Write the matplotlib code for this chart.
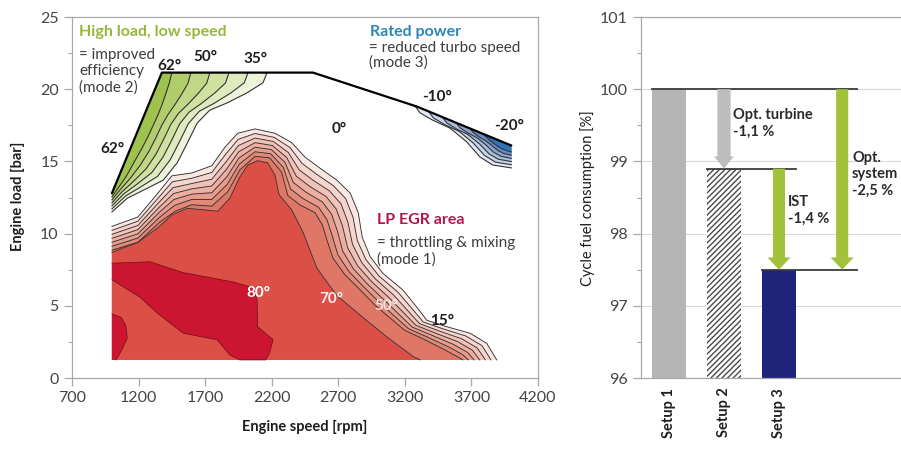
import numpy as np
import matplotlib
matplotlib.use("Agg")
import matplotlib.pyplot as plt
from matplotlib.patches import FancyArrow
from matplotlib.ticker import MultipleLocator

plt.rcParams["font.family"] = ["Lato", "DejaVu Sans"]
plt.rcParams["hatch.linewidth"] = 1.0

# ---------------------------------------------------------------
# Left: operating map (engine speed [rpm] / engine load [bar])
# ---------------------------------------------------------------
MAP_LEFT = 1000
MAP_BOTTOM = 1.25

# full load line
LOAD_RPM = [1000, 1375, 2510, 3290, 4000]
LOAD_BAR = [12.8, 21.15, 21.15, 18.8, 16.1]

# LP EGR area (red): outermost (15 deg) and innermost band isoline
RED_OUTER_RPM = [1000, 1195, 1345, 1450, 1600, 1750, 1850, 1945, 2075, 2225, 2350, 2450, 2560,
                 2690, 2790, 2850, 2880, 2940, 3035, 3185, 3290, 3365, 3515, 3690, 3815, 3890]
RED_OUTER_BAR = [10.5, 11.15, 12.8, 14.0, 14.2, 14.7, 16.0, 16.95, 17.25, 16.95, 16.3, 15.3, 14.55,
                 13.7, 12.8, 11.45, 9.75, 8.4, 7.25, 6.1, 4.9, 4.0, 3.55, 3.1, 2.4, 1.25]
RED_INNER_RPM = [1000, 1195, 1360, 1475, 1600, 1750, 1870, 1960, 2075, 2185, 2275, 2320, 2410,
                 2525, 2580, 2615, 2660, 2750, 2865, 2975, 3090, 3200, 3350, 3500, 3600, 3635]
RED_INNER_BAR = [8.85, 9.4, 10.8, 11.55, 12.0, 11.9, 12.9, 14.4, 15.35, 15.25, 14.25, 12.65, 12.0,
                 11.45, 10.6, 9.55, 8.3, 7.15, 6.1, 5.05, 4.15, 3.3, 2.65, 1.95, 1.45, 1.25]
# 70 deg isoline
RED70_RPM = [1000, 1195, 1345, 1450, 1565, 1685, 1795, 1885, 1960, 2020, 2095, 2170, 2225, 2255,
             2350, 2435, 2540, 2690, 2885, 3065, 3260, 3315]
RED70_BAR = [8.7, 9.4, 10.4, 11.3, 11.75, 11.65, 11.55, 12.45, 13.9, 14.75, 15.05, 14.9, 14.05, 12.7,
             11.65, 10.1, 7.6, 5.7, 4.2, 2.85, 1.5, 1.25]
# 80 deg areas
RED80_RPM = [1000, 1285, 1535, 1910, 2060, 2090, 2095, 2210, 2185, 2155, 1960, 1885, 1790, 1535,
             1340, 1210, 1000]
RED80_BAR = [7.95, 8.05, 7.3, 6.65, 6.25, 5.4, 3.55, 2.65, 1.75, 1.25, 1.25, 1.6, 2.65, 3.1, 4.5,
             5.6, 6.8]
RED80B_RPM = [1000, 1070, 1105, 1115, 1075, 1030, 1000]
RED80B_BAR = [4.45, 4.2, 3.6, 2.75, 1.95, 1.25, 1.25]

# High load, low speed (green): outermost (35 deg) and innermost isoline
GREEN_OUTER_RPM = [2165, 2135, 2015, 1865, 1735, 1640, 1565, 1490, 1385, 1235, 1115, 1000]
GREEN_OUTER_BAR = [21.15, 20.45, 19.75, 19.05, 18.55, 17.65, 16.25, 14.9, 13.7, 13.0, 12.45, 11.5]
GREEN_INNER_RPM = [1450, 1430, 1405, 1375, 1345, 1310, 1270, 1225, 1170, 1110, 1050, 1000]
GREEN_INNER_BAR = [21.15, 20.4, 19.7, 18.9, 18.2, 17.5, 16.7, 15.9, 15.0, 14.0, 13.2, 12.55]

# Rated power (blue): outermost (-10 deg) and innermost isoline
BLUE_OUTER_RPM = [3275, 3315, 3410, 3540, 3665, 3765, 3860, 4000]
BLUE_OUTER_BAR = [18.85, 18.35, 17.85, 17.3, 16.35, 15.3, 14.75, 14.55]
BLUE_INNER_RPM = [3790, 3815, 3845, 3875, 3905, 3935, 3965, 4000]
BLUE_INNER_BAR = [16.9, 16.65, 16.4, 16.2, 16.0, 15.85, 15.75, 15.65]

RED_COLORS = ["#f9e7e2", "#f5d5cd", "#f1c2b8", "#ecafa2", "#e89c8d", "#e48978", "#e07766"]
GREEN_COLORS = ["#eef3dc", "#dfeabf", "#d0e1a2", "#c1d786", "#b1cc6a", "#9fc14d"]
BLUE_COLORS = ["#e3e9f4", "#c8d4ea", "#aabede", "#8aa6d2", "#668cc4", "#2f73b8"]

# ---------------------------------------------------------------
# Right: cycle fuel consumption
# ---------------------------------------------------------------
SETUPS = ["Setup 1", "Setup 2", "Setup 3"]
CONSUMPTION = [100.0, 98.9, 97.5]
BASE = 96
SYSTEM_X = 3.15

LINE = "#333333"


def iso_lines(ox, oy, ix, iy, n):
    """n isolines stepping from the outer to the inner one."""
    ox, oy, ix, iy = map(np.asarray, (ox, oy, ix, iy))
    res = []
    for k in range(n):
        t = k / (n - 1)
        res.append(((1 - t) * ox + t * ix, (1 - t) * oy + t * iy))
    return res


fig = plt.figure(figsize=(9.01, 4.5), dpi=100)
ax = fig.add_axes([0.0799, 0.16, 0.5172, 0.8022])
bx = fig.add_axes([0.7114, 0.16, 0.2886, 0.8022])

# --- red area
for (x, y), c in zip(iso_lines(RED_OUTER_RPM, RED_OUTER_BAR, RED_INNER_RPM, RED_INNER_BAR,
                               len(RED_COLORS)), RED_COLORS):
    ax.fill(np.r_[x, MAP_LEFT], np.r_[y, MAP_BOTTOM], color=c, lw=0, zorder=1)
    ax.plot(x, y, color=LINE, lw=0.65, zorder=3)
ax.fill(np.r_[RED70_RPM, MAP_LEFT], np.r_[RED70_BAR, MAP_BOTTOM], color="#dc4f47", lw=0, zorder=1)
ax.plot(RED70_RPM, RED70_BAR, color=LINE, lw=0.6, zorder=3)
ax.fill(RED80_RPM, RED80_BAR, color="#cc1530", lw=0, zorder=2)
ax.plot(RED80_RPM, RED80_BAR, color="#6a1010", lw=0.5, zorder=3)
ax.fill(RED80B_RPM, RED80B_BAR, color="#cc1530", lw=0, zorder=2)
ax.plot(RED80B_RPM[:-1], RED80B_BAR[:-1], color="#6a1010", lw=0.5, zorder=3)

# --- green area
for (x, y), c in zip(iso_lines(GREEN_OUTER_RPM, GREEN_OUTER_BAR, GREEN_INNER_RPM, GREEN_INNER_BAR,
                               len(GREEN_COLORS)), GREEN_COLORS):
    ax.fill(np.r_[x, LOAD_RPM[0], LOAD_RPM[1]], np.r_[y, LOAD_BAR[0], LOAD_BAR[1]],
            color=c, lw=0, zorder=1)
    ax.plot(x, y, color=LINE, lw=0.8, zorder=3)

# --- blue area
for (x, y), c in zip(iso_lines(BLUE_OUTER_RPM, BLUE_OUTER_BAR, BLUE_INNER_RPM, BLUE_INNER_BAR,
                               len(BLUE_COLORS)), BLUE_COLORS):
    ax.fill(np.r_[x, LOAD_RPM[-1]], np.r_[y, LOAD_BAR[-1]], color=c, lw=0, zorder=1)
    ax.plot(x, y, color=LINE, lw=0.8, zorder=3)

ax.plot(LOAD_RPM, LOAD_BAR, color="black", lw=1.6, zorder=4, solid_capstyle="round")

ax.set_xlim(700, 4200)
ax.set_ylim(0, 25)
ax.set_xticks(np.arange(700, 4201, 500))
ax.set_yticks(np.arange(0, 26, 5))
ax.yaxis.set_minor_locator(MultipleLocator(2.5))

txt = dict(fontsize=11, color="#3c3c3c", zorder=5)
deg = dict(fontsize=11, fontweight="bold", color="#1e1e1e", ha="center", va="center", zorder=5)
ax.text(752, 23.95, "High load, low speed", fontsize=11.5, fontweight="bold", color="#98b53c",
        va="center", zorder=5)
ax.text(752, 21.25, "= improved\nefficiency\n(mode 2)", va="center", linespacing=1.2, **txt)
ax.text(2935, 23.95, "Rated power", fontsize=11.5, fontweight="bold", color="#2a86b4",
        va="center", zorder=5)
ax.text(2930, 22.35, "= reduced turbo speed\n(mode 3)", va="center", linespacing=1.0, **txt)
ax.text(2990, 10.95, "LP EGR area", fontsize=11.5, fontweight="bold", color="#b3164b",
        va="center", zorder=5)
ax.text(2990, 8.75, "= throttling & mixing\n(mode 1)", va="center", linespacing=1.2, **txt)

ax.text(1430, 21.6, "62°", **deg)
ax.text(1705, 22.2, "50°", **deg)
ax.text(2075, 22.1, "35°", **deg)
ax.text(1005, 15.85, "62°", **deg)
ax.text(3440, 19.45, "-10°", **deg)
ax.text(3985, 17.45, "-20°", **deg)
ax.text(2705, 17.25, "0°", **deg)
ax.text(3480, 3.95, "15°", **deg)
ax.text(2098, 5.9, "80°", **{**deg, "color": "white"})
ax.text(2645, 5.47, "70°", **{**deg, "color": "#fbeeee"})
ax.text(3058, 5.0, "50°", **{**deg, "color": "#f7e4e2"})

fig.text(305 / 901, 1 - 427 / 450, "Engine speed [rpm]", fontsize=10.5, fontweight="bold",
         color="#1e1e1e", ha="center", va="center")
fig.text(18 / 901, 1 - 196 / 450, "Engine load [bar]", fontsize=10.5, fontweight="bold",
         color="#1e1e1e", ha="center", va="center", rotation=90)

# --- right panel
xpos = np.arange(len(SETUPS))
w = 0.63
heights = [v - BASE for v in CONSUMPTION]
bx.bar(xpos[0], heights[0], bottom=BASE, width=w, color="#b5b5b5", lw=0, zorder=2)
bx.bar(xpos[1], heights[1], bottom=BASE, width=w, facecolor="white", edgecolor="#4a4a4a",
       hatch="//////", lw=0, zorder=2)
bx.bar(xpos[2], heights[2], bottom=BASE, width=w, color="#1f2379", lw=0, zorder=2)

step = dict(color="#3a3a3a", lw=1.3, zorder=3)
bx.plot([xpos[0] - w / 2, SYSTEM_X + 0.27], [CONSUMPTION[0]] * 2, **step)
bx.plot([xpos[1] - w / 2, xpos[2] + w / 2], [CONSUMPTION[1]] * 2, **step)
bx.plot([xpos[2] - w / 2, SYSTEM_X + 0.27], [CONSUMPTION[2]] * 2, **step)

GREEN = "#a3c23c"
for x0, y0, y1, col, sw, hw in ((xpos[1], CONSUMPTION[0], CONSUMPTION[1], "#bdbdbd", 0.24, 0.36),
                                (xpos[2], CONSUMPTION[1], CONSUMPTION[2], GREEN, 0.22, 0.42),
                                (SYSTEM_X, CONSUMPTION[0], CONSUMPTION[2], GREEN, 0.22, 0.42)):
    bx.add_patch(FancyArrow(x0, y0, 0, y1 - y0, width=sw, head_width=hw, head_length=0.17,
                            length_includes_head=True, color=col, lw=0, zorder=4))

lab = dict(fontsize=10.5, fontweight="bold", color="#2a2a2a", va="center", linespacing=1.25,
           zorder=5)
bx.text(1.16, 99.52, "Opt. turbine\n-1,1 %", **lab)
bx.text(2.16, 98.32, "IST\n-1,4 %", **lab)
bx.text(3.33, 98.82, "Opt.\nsystem\n-2,5 %", **lab)

bx.set_ylim(BASE, 101)
bx.set_xlim(-0.51, 4.22)
bx.set_yticks(np.arange(96, 102, 1))
bx.yaxis.set_minor_locator(MultipleLocator(0.5))
bx.set_xticks(xpos, SETUPS, rotation=90, fontsize=10.5, fontweight="bold", color="#1e1e1e")
bx.grid(axis="y", color="#d8d8d8", lw=0.8, zorder=0)
bx.set_axisbelow(True)
bx.spines["right"].set_visible(False)
fig.text(588 / 901, 1 - 198 / 450, "Cycle fuel consumption [%]", fontsize=10.5,
         color="#1e1e1e", ha="center", va="center", rotation=90)

for a in (ax, bx):
    for s in a.spines.values():
        s.set_color("#a8a8a8")
        s.set_linewidth(0.9)
    a.tick_params(which="major", direction="out", length=6, width=0.9, color="#a8a8a8",
                  labelsize=11.5, labelcolor="#444444")
    a.tick_params(which="minor", direction="out", length=3, width=0.8, color="#a8a8a8")
bx.tick_params(axis="x", length=0, pad=7, labelsize=10.5, labelcolor="#1e1e1e")

fig.savefig("out.png", dpi=100)
